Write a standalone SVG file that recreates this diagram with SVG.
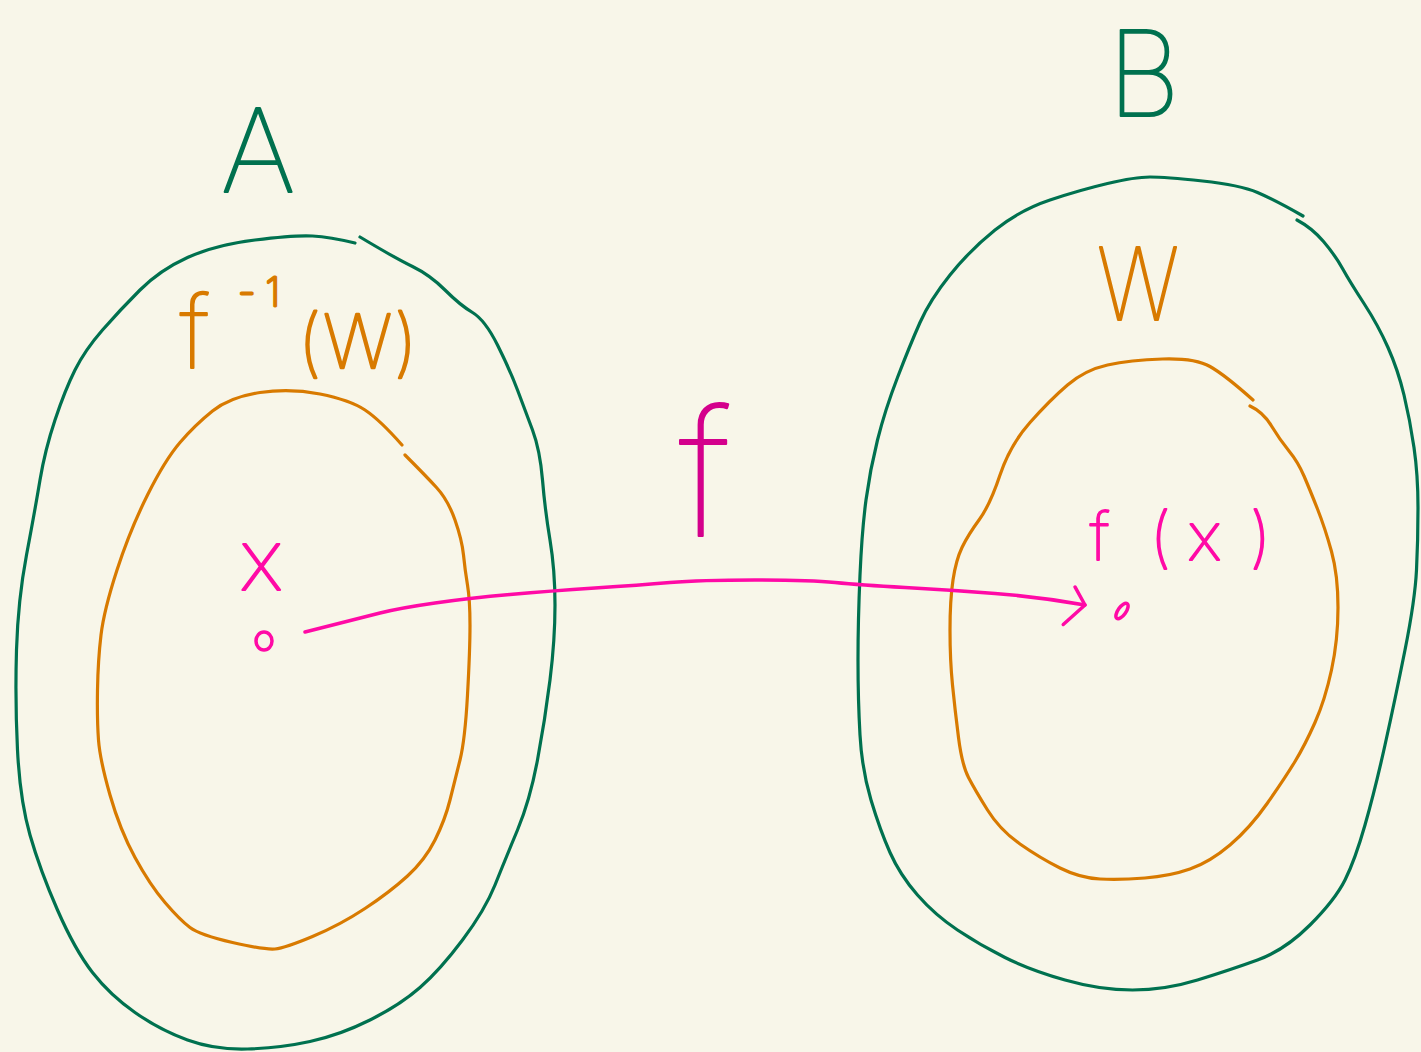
<svg xmlns="http://www.w3.org/2000/svg" width="1421" height="1052" viewBox="0 0 1421 1052">
<defs>
<style>
.green{fill:none;stroke:#00714f;stroke-width:3.2;stroke-linecap:round;stroke-linejoin:round}
.orange{fill:none;stroke:#d87a00;stroke-width:3.2;stroke-linecap:round;stroke-linejoin:round}
.pink{fill:none;stroke:#ff0aa6;stroke-width:3.5;stroke-linecap:round;stroke-linejoin:round}
.t{font-family:Inter,"Open Sans","Liberation Sans",sans-serif;font-weight:100;stroke-width:2.2;stroke-linejoin:round;stroke-linecap:round}
.tg{fill:#00714f;stroke:#00714f}
.to{fill:#d87a00;stroke:#d87a00}
.tp{fill:#ff0aa6;stroke:#ff0aa6}
.tf{fill:#d4008c;stroke:#d4008c}
</style>
<marker id="arr" markerUnits="userSpaceOnUse" markerWidth="40" markerHeight="60" refX="0" refY="0" viewBox="-25 -30 40 60" orient="auto" overflow="visible">
<path d="M-13,-16 L0,0 L-18,23" fill="none" stroke="#ff0aa6" stroke-width="3.5" stroke-linecap="round" stroke-linejoin="round"/>
</marker>
</defs>
<rect width="1421" height="1052" fill="#f8f6e9"/>

<g id="setA">
<path class="green" d="M360,237 Q395,258 412.5,266.5 Q430,275 445,290 Q460,305 472.5,312.5 Q485,320 497.5,345 Q510,370 517.5,390 Q525,410 532.5,430 Q540,450 542.5,480 Q545,510 550,540 Q555,570 555,605 Q555,640 550,680 Q545,720 537.5,760 Q530,800 517.5,830 Q505,860 495,885 Q485,910 462.5,940 Q440,970 420,987.5 Q400,1005 370,1020 Q340,1035 310,1041.5 Q280,1048 247.5,1049 Q215,1050 187.5,1040 Q160,1030 135,1012.5 Q110,995 92.5,972.5 Q75,950 57.5,910 Q40,870 30,835 Q20,800 17.5,750 Q15,700 16.5,650 Q18,600 26.5,555 Q35,510 40,480 Q45,450 55,420 Q65,390 75,370 Q85,350 102.5,330 Q120,310 140,290 Q160,270 187.5,257.5 Q215,245 255,240 Q295,235 312.5,236 Q330,237 355,243"/>
<text class="t tg" x="258" y="192" font-size="116" text-anchor="middle">A</text>
</g>

<g id="preimage">
<path class="orange" d="M405,455 Q425,475 436.5,487.5 Q448,500 455,520 Q462,540 463.5,555 Q465,570 467.5,585 Q470,600 470,625 Q470,650 467.5,695 Q465,740 460,760 Q455,780 450,800 Q445,820 435,840 Q425,860 407.5,876 Q390,892 365,908.5 Q340,925 312.5,936.5 Q285,948 275,949 Q265,950 232.5,942.5 Q200,935 190,927.5 Q180,920 165,902.5 Q150,885 135,857.5 Q120,830 110,795 Q100,760 98.5,740 Q97,720 97.5,690 Q98,660 101,635 Q104,610 117,570 Q130,530 147.5,495 Q165,460 180,442.5 Q195,425 212.5,411 Q230,397 260,392.5 Q290,388 320,394 Q350,400 365,410 Q380,420 402,445"/>
<text class="t to" x="180" y="368" font-size="100">f<tspan x="238" y="306" font-size="40" stroke-width="3" letter-spacing="10">-1</tspan><tspan x="298" y="368" font-size="74" stroke-width="2.6" letter-spacing="2">(W)</tspan></text>
</g>

<g id="pointX">
<text class="t tp" x="240" y="590" font-size="85" stroke-width="2.6">x</text>
<ellipse class="pink" cx="264" cy="641" rx="8" ry="9"/>
</g>

<g id="setB">
<path class="green" d="M1297,220 Q1312,228 1323.5,241.5 Q1335,255 1342.5,268.5 Q1350,282 1364,303.5 Q1378,325 1388,347.5 Q1398,370 1404,395 Q1410,420 1414,447.5 Q1418,475 1418,507.5 Q1418,540 1416.5,570 Q1415,600 1405,650 Q1395,700 1385,745 Q1375,790 1365,825 Q1355,860 1345,880 Q1335,900 1310,925 Q1285,950 1257.5,960 Q1230,970 1197.5,980 Q1165,990 1132.5,990 Q1100,990 1065,980 Q1030,970 1005,957.5 Q980,945 957.5,930 Q935,915 917.5,895 Q900,875 890,852.5 Q880,830 871,800 Q862,770 860,735 Q858,700 858,660 Q858,620 860,575 Q862,530 866,500 Q870,470 877.5,440 Q885,410 897.5,377.5 Q910,345 920,322.5 Q930,300 950,275 Q970,250 995,230 Q1020,210 1050,200 Q1080,190 1107.5,183.5 Q1135,177 1150,177 Q1165,177 1202.5,181 Q1240,185 1257.5,192.5 Q1275,200 1303,216"/>
<text class="t tg" x="1108" y="116" font-size="118" textLength="72" lengthAdjust="spacingAndGlyphs">B</text>
</g>

<g id="setW">
<path class="orange" d="M1250,406 Q1263,412 1271.5,426 Q1280,440 1289,451 Q1298,462 1304,476 Q1310,490 1317.5,509 Q1325,528 1331.5,551.5 Q1338,575 1338,607.5 Q1338,640 1331.5,670 Q1325,700 1315,722.5 Q1305,745 1295,761.5 Q1285,778 1267.5,803 Q1250,828 1230,845 Q1210,862 1190,869 Q1170,876 1145,878 Q1120,880 1100,879 Q1080,878 1060,868 Q1040,858 1020,844 Q1000,830 987.5,810 Q975,790 968.5,777.5 Q962,765 958.5,737.5 Q955,710 952.5,685 Q950,660 950,630 Q950,600 953,580 Q956,560 962,547.5 Q968,535 979,520 Q990,505 1000,475 Q1010,445 1030,422.5 Q1050,400 1067.5,385 Q1085,370 1107.5,365 Q1130,360 1162.5,359 Q1195,358 1210,366.5 Q1225,375 1253,400"/>
<text class="t to" x="1097" y="320" font-size="100" textLength="82" lengthAdjust="spacingAndGlyphs">W</text>
</g>

<g id="pointFx">
<text class="t tp" y="560" font-size="66" stroke-width="3"><tspan x="1090">f</tspan><tspan x="1150">(</tspan><tspan x="1188">x</tspan><tspan x="1250">)</tspan></text>
<ellipse class="pink" cx="1122" cy="611" rx="4" ry="9" transform="rotate(35 1122 611)"/>
</g>

<g id="connectors">
<path class="pink" marker-end="url(#arr)" d="M305,632 Q360,618 380,613 Q400,608 435,603 Q470,598 510,594.5 Q550,591 595,588 Q640,585 670,582.5 Q700,580 755,580 Q810,580 835,582.5 Q860,585 905,587.5 Q950,590 995,593.5 Q1040,597 1085,605"/>
<text class="t tf" x="705" y="536" font-size="175" stroke-width="1.8" text-anchor="middle">f</text>
</g>
</svg>
